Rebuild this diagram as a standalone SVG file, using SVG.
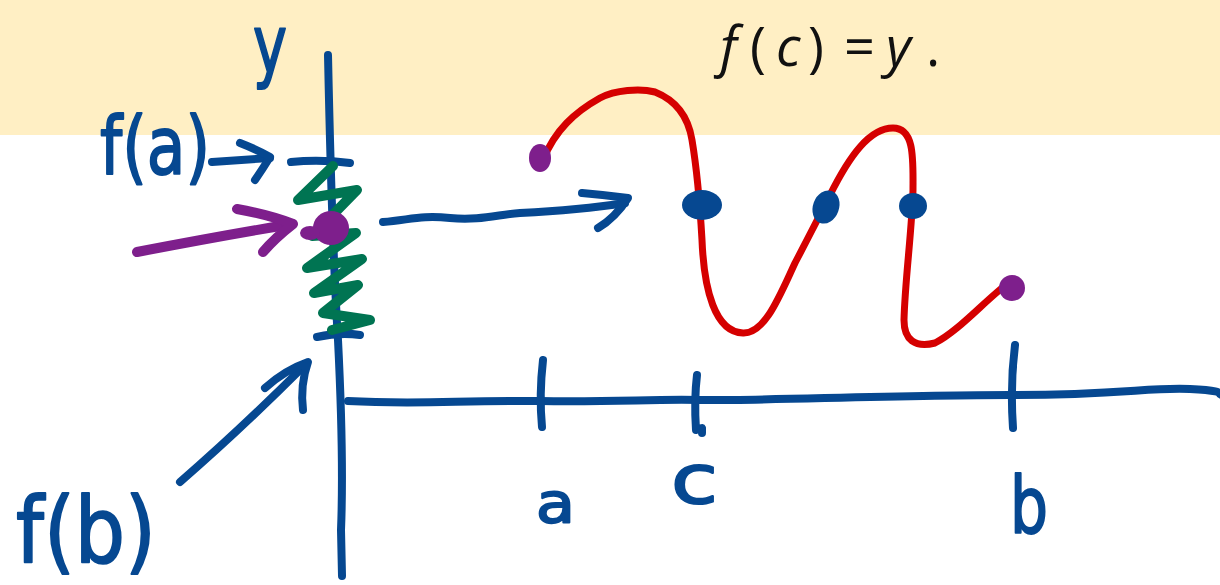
<svg xmlns="http://www.w3.org/2000/svg" width="1220" height="585" viewBox="0 0 1220 585">
<style>
.blue{fill:none;stroke:#064891;stroke-width:8;stroke-linecap:round;stroke-linejoin:round}
.red{fill:none;stroke:#D50000;stroke-width:7;stroke-linecap:round;stroke-linejoin:round}
.green{fill:none;stroke:#007452;stroke-width:10;stroke-linecap:round;stroke-linejoin:round}
.purple{fill:none;stroke:#7E1F8C;stroke-width:10;stroke-linecap:round;stroke-linejoin:round}
.hand{font-family:"DejaVu Sans",sans-serif;fill:#064891;stroke:#064891;stroke-width:2;stroke-linejoin:round}
.math{font-family:"Open Sans","DejaVu Sans",sans-serif;font-size:54px;fill:#111}
.it{font-style:italic}
</style>
<rect x="0" y="0" width="1220" height="135" fill="#FFEFC4"/>
<rect x="0" y="135" width="1220" height="450" fill="#FFFFFF"/>

<g id="caption">
<text class="math" y="66"><tspan class="it" x="720">f</tspan><tspan x="750">(</tspan><tspan class="it" x="776">c</tspan><tspan x="808">)</tspan><tspan x="844">=</tspan><tspan class="it" x="886">y</tspan><tspan x="926">.</tspan></text>
</g>

<g id="y-axis">
<path class="blue" d="M328,55 C330,150 333,260 338,340 C342,420 343,480 341,530 L342,576"/>
<path class="blue" d="M291,162 Q320,159 350,163"/>
<path class="blue" d="M317,337 Q340,332 360,335"/>
<text class="hand" x="253" y="72" font-size="80" textLength="34" lengthAdjust="spacingAndGlyphs">y</text>
</g>

<g id="x-axis">
<path class="blue" d="M348,401 C420,405 460,400 540,401 S650,399 700,400 S900,395 1010,395 S1150,387 1190,389 S1215,394 1222,395"/>
<path class="blue" d="M543,360 Q539,395 542,427"/>
<path class="blue" d="M697,375 Q694,400 696,430 L702,428 L702,433"/>
<path class="blue" d="M1015,345 Q1010,385 1013,428"/>
<text class="hand" x="536" y="522" font-size="55" textLength="39" lengthAdjust="spacingAndGlyphs">a</text>
<text class="hand" x="671" y="503" font-size="68" textLength="47" lengthAdjust="spacingAndGlyphs">c</text>
<text class="hand" x="1010" y="533" font-size="78" textLength="38" lengthAdjust="spacingAndGlyphs">b</text>
</g>

<g id="label-fa">
<text class="hand" x="100" y="174" font-size="80" textLength="110" lengthAdjust="spacingAndGlyphs">f(a)</text>
</g>

<g id="label-fb">
<text class="hand" x="16" y="562" font-size="90" textLength="140" lengthAdjust="spacingAndGlyphs">f(b)</text>
</g>

<g id="range-spring">
<path class="green" d="M333,166 L298,200 L357,190 L312,236 L356,233 L307,268 L362,259 L314,293 L358,285 L323,313 L370,320 L332,330"/>
</g>

<g id="graph">
<path class="red" d="M543,160 C555,130 575,112 600,98 C615,90 640,88 655,92 C675,100 688,115 692,140 C697,170 700,205 702,240 C704,290 715,332 743,333 C765,334 780,295 795,263 C808,238 820,215 830,195 C850,155 870,128 893,128 C915,128 913,160 913,190 C912,230 905,280 904,320 C904,340 915,348 935,343 C960,330 985,300 1012,280"/>
<ellipse cx="540" cy="158" rx="11" ry="14" fill="#7E1F8C"/>
<ellipse cx="1012" cy="288" rx="13" ry="13" fill="#7E1F8C"/>
<ellipse cx="702" cy="205" rx="20" ry="15" fill="#064891"/>
<ellipse cx="826" cy="207" rx="13" ry="17" transform="rotate(20 826 207)" fill="#064891"/>
<ellipse cx="913" cy="206" rx="14" ry="13" fill="#064891"/>
</g>

<g id="point-y">
<ellipse cx="331" cy="228" rx="18" ry="17" fill="#7E1F8C"/>
<ellipse cx="310" cy="233" rx="10" ry="7" fill="#7E1F8C"/>
</g>

<g id="connectors">
<path class="purple" d="M137,252 Q220,236 292,224"/>
<path class="purple" d="M237,209 Q270,215 293,224 Q275,238 263,252"/>
<path class="blue" d="M212,162 Q240,160 270,158"/>
<path class="blue" d="M240,143 Q258,150 270,157 Q262,170 255,180"/>
<path class="blue" d="M180,482 Q240,430 305,365"/>
<path class="blue" d="M265,388 Q285,370 308,362 Q300,385 303,410"/>
<path class="blue" d="M383,222 C410,220 420,215 450,218 S500,214 520,213 S580,210 625,203"/>
<path class="blue" d="M582,193 Q605,195 628,198 Q615,218 598,228"/>
</g>
</svg>
